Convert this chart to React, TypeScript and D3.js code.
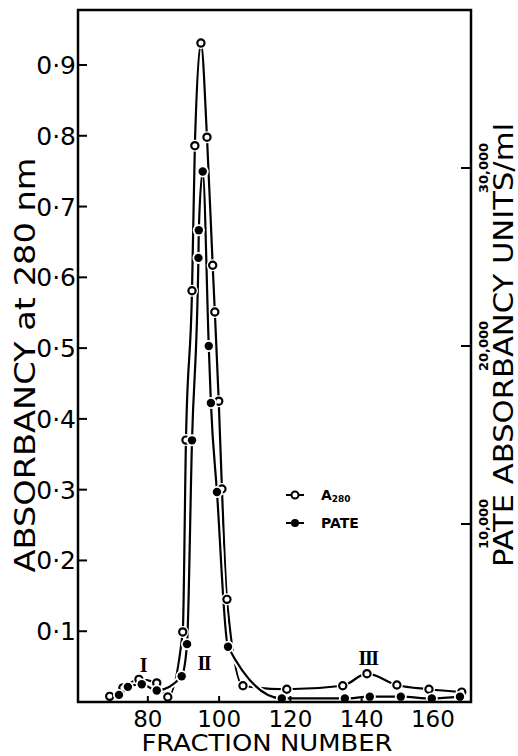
import { useEffect, useRef } from "react";
import * as d3 from "d3";

// A280 (open circles) — fraction number vs absorbance at 280 nm
const A280_FRACTION = [
  69.3, 73.0, 77.5, 82.5, 85.6, 89.8, 90.7, 92.4, 93.2, 94.9, 96.6, 98.2, 98.8,
  99.9, 100.8, 102.2, 106.7, 119.0, 134.7, 141.5, 149.9, 158.9, 168.1,
];
const A280_VALUE = [
  0.008, 0.02, 0.032, 0.027, 0.007, 0.099, 0.37, 0.581, 0.786, 0.931, 0.798,
  0.617, 0.551, 0.425, 0.301, 0.145, 0.023, 0.018, 0.023, 0.04, 0.024, 0.018,
  0.014,
];

// PATE (filled circles) — fraction number vs PATE absorbancy units/ml
const PATE_FRACTION = [
  71.9, 74.4, 78.3, 82.5, 89.5, 91.0, 92.4, 94.2, 94.3, 95.4, 97.1, 97.7, 99.4,
  102.5, 117.6, 135.3, 142.3, 151.0, 159.7, 167.6,
];
const PATE_UNITS = [
  400, 850, 1000, 650, 1450, 3250, 14700, 24950, 26500, 29800, 20000, 16800,
  11800, 3100, 200, 200, 300, 300, 200, 300,
];

const LEFT_TICKS = [0.1, 0.2, 0.3, 0.4, 0.5, 0.6, 0.7, 0.8, 0.9];
const BOTTOM_TICKS = [80, 100, 120, 140, 160];
const RIGHT_TICKS = [10000, 20000, 30000];

// peak annotations (fraction, absorbance level)
const PEAK_NAMES = ["I", "II", "III"];
const PEAK_FRACTION = [78.6, 95.7, 141.8];
const PEAK_LEVEL = [0.052, 0.055, 0.062];

const W = 518;
const H = 756;
const SANS = "DejaVu Sans, sans-serif";

export default function App() {
  const svgRef = useRef<SVGSVGElement>(null);

  useEffect(() => {
    if (!svgRef.current) return;
    const svg = d3.select(svgRef.current);
    svg.selectAll("*").remove();

    const left = 78,
      right = 471,
      top = 10,
      bottom = 702;

    const x = d3.scaleLinear().domain([60.4, 170.7]).range([left, right]);
    const y = d3.scaleLinear().domain([0, 0.9]).range([bottom, 65]);
    const yR = d3.scaleLinear().domain([0, 30000]).range([bottom, 168]);

    svg.append("rect").attr("width", W).attr("height", H).attr("fill", "#fff");

    // ── Curves (white casing keeps the close lines apart) ──
    const a280 = A280_FRACTION.map((f, i) => [x(f), y(A280_VALUE[i])] as [number, number]);
    const pate = PATE_FRACTION.map((f, i) => [x(f), yR(PATE_UNITS[i])] as [number, number]);
    const line = d3.line().curve(d3.curveMonotoneX);

    [a280, pate].forEach((pts) => {
      svg
        .append("path")
        .attr("d", line(pts))
        .attr("fill", "none")
        .attr("stroke", "#fff")
        .attr("stroke-width", 6);
      svg
        .append("path")
        .attr("d", line(pts))
        .attr("fill", "none")
        .attr("stroke", "#000")
        .attr("stroke-width", 2.2);
    });

    // ── Markers (white halo breaks the lines) ──
    const drawMarkers = (pts: [number, number][], filled: boolean) => {
      const g = svg.append("g");
      g.selectAll("circle.halo")
        .data(pts)
        .join("circle")
        .attr("class", "halo")
        .attr("cx", (d) => d[0])
        .attr("cy", (d) => d[1])
        .attr("r", 6)
        .attr("fill", "#fff");
      g.selectAll("circle.mark")
        .data(pts)
        .join("circle")
        .attr("class", "mark")
        .attr("cx", (d) => d[0])
        .attr("cy", (d) => d[1])
        .attr("r", filled ? 4.2 : 3.6)
        .attr("fill", filled ? "#000" : "#fff")
        .attr("stroke", "#000")
        .attr("stroke-width", filled ? 0 : 2.2);
    };
    drawMarkers(a280, false);
    drawMarkers(pate, true);

    // ── Frame ──
    svg
      .append("rect")
      .attr("x", left)
      .attr("y", top)
      .attr("width", right - left)
      .attr("height", bottom - top)
      .attr("fill", "none")
      .attr("stroke", "#000")
      .attr("stroke-width", 2.5);

    // ── Left axis ──
    const gl = svg.append("g");
    gl.selectAll("line")
      .data(LEFT_TICKS)
      .join("line")
      .attr("x1", left)
      .attr("x2", left + 9)
      .attr("y1", (d) => y(d))
      .attr("y2", (d) => y(d))
      .attr("stroke", "#000")
      .attr("stroke-width", 2);
    gl.selectAll("text")
      .data(LEFT_TICKS)
      .join("text")
      .attr("x", left - 2)
      .attr("y", (d) => y(d) + 9)
      .attr("text-anchor", "end")
      .attr("font-family", SANS)
      .attr("font-size", 25)
      .text((d) => "0\u00b7" + Math.round(d * 10));

    // ── Bottom axis ──
    const gb = svg.append("g");
    gb.selectAll("line")
      .data(BOTTOM_TICKS)
      .join("line")
      .attr("x1", (d) => x(d))
      .attr("x2", (d) => x(d))
      .attr("y1", bottom)
      .attr("y2", bottom - 6)
      .attr("stroke", "#000")
      .attr("stroke-width", 2);
    gb.selectAll("text")
      .data(BOTTOM_TICKS)
      .join("text")
      .attr("x", (d) => x(d))
      .attr("y", 727)
      .attr("text-anchor", "middle")
      .attr("font-family", SANS)
      .attr("font-size", 23)
      .text((d) => d);

    // ── Right axis ──
    const gr = svg.append("g");
    gr.selectAll("line")
      .data(RIGHT_TICKS)
      .join("line")
      .attr("x1", right)
      .attr("x2", right - 10)
      .attr("y1", (d) => yR(d))
      .attr("y2", (d) => yR(d))
      .attr("stroke", "#000")
      .attr("stroke-width", 2);
    gr.selectAll("text")
      .data(RIGHT_TICKS)
      .join("text")
      .attr("transform", (d) => `translate(488,${yR(d)}) rotate(-90)`)
      .attr("text-anchor", "middle")
      .attr("font-family", SANS)
      .attr("font-weight", "bold")
      .attr("font-size", 13)
      .text((d) => d3.format(",")(d));

    // ── Axis titles ──
    svg
      .append("text")
      .attr("transform", "translate(35,365) rotate(-90)")
      .attr("text-anchor", "middle")
      .attr("font-family", SANS)
      .attr("font-size", 29)
      .attr("textLength", 415)
      .attr("lengthAdjust", "spacingAndGlyphs")
      .text("ABSORBANCY at 280 nm");
    svg
      .append("text")
      .attr("x", 267)
      .attr("y", 751)
      .attr("text-anchor", "middle")
      .attr("font-family", SANS)
      .attr("font-size", 23)
      .attr("textLength", 251)
      .attr("lengthAdjust", "spacingAndGlyphs")
      .text("FRACTION NUMBER");
    svg
      .append("text")
      .attr("transform", "translate(513,345) rotate(-90)")
      .attr("text-anchor", "middle")
      .attr("font-family", SANS)
      .attr("font-size", 27)
      .attr("textLength", 444)
      .attr("lengthAdjust", "spacingAndGlyphs")
      .text("PATE ABSORBANCY UNITS/ml");

    // ── Peak labels ──
    svg
      .append("g")
      .selectAll("text")
      .data(PEAK_NAMES)
      .join("text")
      .attr("x", (_, i) => x(PEAK_FRACTION[i]))
      .attr("y", (_, i) => y(PEAK_LEVEL[i]) + 7)
      .attr("text-anchor", "middle")
      .attr("font-family", "Liberation Serif, serif")
      .attr("font-weight", "bold")
      .attr("font-size", 20)
      .attr("letter-spacing", -1.5)
      .text((d) => d);

    // ── Legend ──
    const lg = svg.append("g");
    const legendRow = (cy: number, filled: boolean) => {
      lg.append("line")
        .attr("x1", 286)
        .attr("x2", 304)
        .attr("y1", cy)
        .attr("y2", cy)
        .attr("stroke", "#000")
        .attr("stroke-width", 2)
        .attr("stroke-dasharray", "5 8 5");
      lg.append("circle")
        .attr("cx", 295)
        .attr("cy", cy)
        .attr("r", filled ? 4 : 3.5)
        .attr("fill", filled ? "#000" : "#fff")
        .attr("stroke", "#000")
        .attr("stroke-width", filled ? 0 : 2);
    };
    legendRow(495, false);
    legendRow(523, true);
    const a = lg
      .append("text")
      .attr("x", 321)
      .attr("y", 500)
      .attr("font-family", SANS)
      .attr("font-weight", "bold")
      .attr("font-size", 14);
    a.append("tspan").text("A");
    a.append("tspan").attr("font-size", 9).attr("dy", 2).text("280");
    lg.append("text")
      .attr("x", 321)
      .attr("y", 528)
      .attr("font-family", SANS)
      .attr("font-weight", "bold")
      .attr("font-size", 14)
      .text("PATE");
  }, []);

  return (
    <svg
      ref={svgRef}
      width={W}
      height={H}
      style={{ position: "absolute", left: 0, top: 0 }}
      role="img"
      aria-label="Absorbancy at 280 nm and PATE units by fraction number"
    />
  );
}
